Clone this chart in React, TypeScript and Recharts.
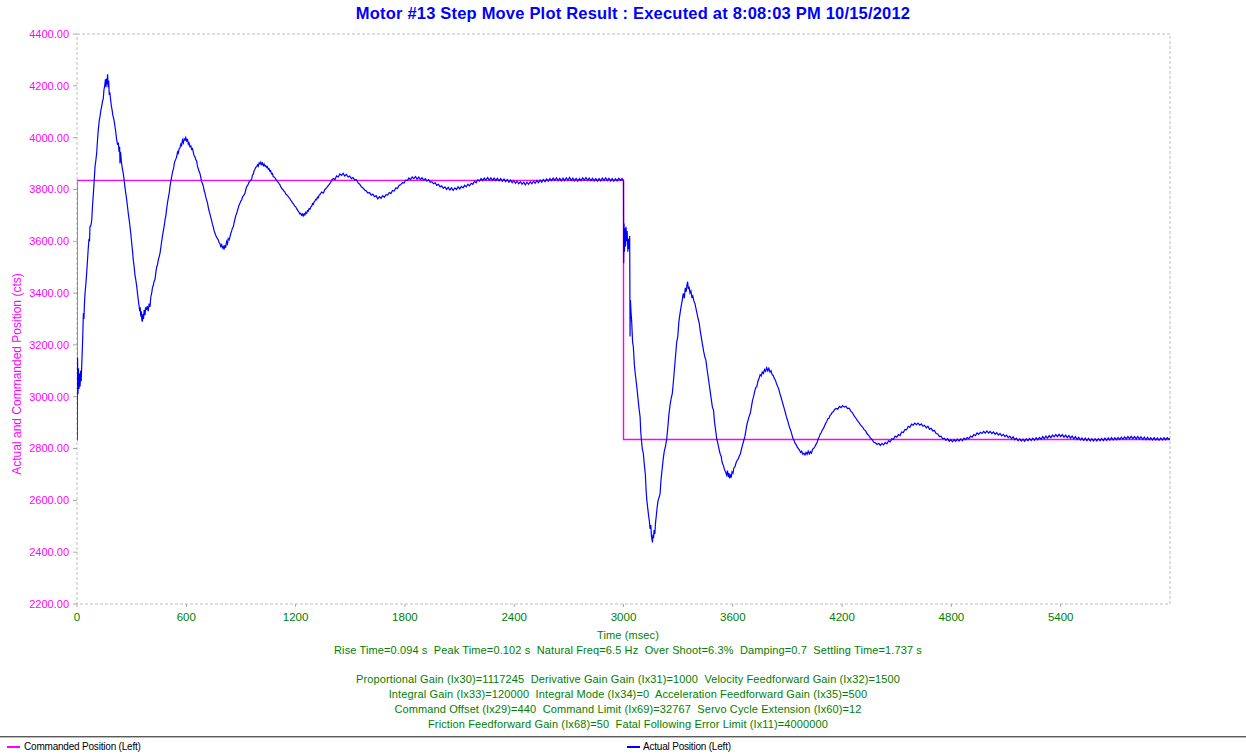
import React from "react";
import { LineChart, Line, XAxis, YAxis, ReferenceArea, Legend } from "recharts";

// Motor #13 step move capture: time in msec, position in counts
type Sample = [number, number];

const positionTicks = [2200, 2400, 2600, 2800, 3000, 3200, 3400, 3600, 3800, 4000, 4200, 4400];
const timeTicks = [0, 600, 1200, 1800, 2400, 3000, 3600, 4200, 4800, 5400];

const commandedSteps: Sample[] = [
  [0, 2835], [0, 3835], [3000, 3835], [3000, 2835], [6000, 2835],
];

// step up and first ringing (0 - 1.34 s)
const riseRinging: Sample[] = [
  [0, 2830], [1, 3000], [3, 3150], [5, 3010], [8, 3110], [11, 3030], [14, 3090], [17, 3040], [20, 3100], [23, 3060],
  [26, 3120], [31, 3220], [35, 3322], [38, 3300], [41, 3360], [44, 3399], [48, 3430], [53, 3476], [57, 3520], [62, 3575],
  [66, 3610], [69, 3600], [71, 3656], [76, 3660], [81, 3682], [85, 3735], [90, 3785], [94, 3830], [99, 3888], [103, 3910],
  [108, 3940], [113, 3995], [117, 4030], [122, 4065], [126, 4081], [131, 4105], [135, 4120], [140, 4140], [144, 4150], [148, 4185],
  [152, 4200], [156, 4225], [159, 4195], [162, 4228], [165, 4205], [168, 4245], [171, 4195], [174, 4220], [177, 4165], [180, 4175],
  [184, 4150], [188, 4125], [193, 4105], [197, 4085], [201, 4075], [205, 4060], [209, 4040], [213, 4020], [218, 3990], [222, 3975],
  [227, 3978], [231, 3945], [234, 3965], [236, 3900], [239, 3945], [244, 3905], [249, 3880], [254, 3862], [259, 3835], [263, 3810],
  [268, 3785], [273, 3759], [277, 3735], [282, 3705], [287, 3680], [291, 3656], [296, 3625], [300, 3595], [305, 3560], [309, 3528],
  [314, 3500], [318, 3470], [323, 3450], [328, 3425], [332, 3400], [337, 3370], [341, 3350], [344, 3330], [347, 3345], [350, 3310],
  [353, 3330], [356, 3295], [359, 3290], [362, 3320], [365, 3300], [369, 3335], [373, 3315], [377, 3345], [381, 3335], [386, 3350],
  [391, 3330], [396, 3360], [401, 3347], [405, 3385], [410, 3400], [414, 3420], [419, 3430], [423, 3445], [428, 3452], [433, 3480],
  [437, 3500], [442, 3510], [447, 3530], [451, 3540], [456, 3555], [460, 3575], [465, 3600], [469, 3620], [474, 3640], [479, 3660],
  [483, 3682], [488, 3700], [493, 3730], [497, 3750], [502, 3770], [507, 3790], [511, 3815], [516, 3834], [520, 3850], [525, 3870],
  [530, 3880], [534, 3900], [538, 3910], [543, 3918], [547, 3926], [552, 3945], [556, 3940], [561, 3958], [565, 3960], [570, 3975],
  [574, 3970], [579, 3990], [584, 3980], [588, 3995], [593, 3991], [597, 4000], [602, 3985], [606, 3995], [611, 3975], [615, 3980],
  [620, 3965], [625, 3968], [629, 3955], [634, 3958], [638, 3945], [643, 3930], [648, 3925], [652, 3915], [657, 3910], [661, 3890],
  [666, 3880], [670, 3870], [675, 3862], [680, 3845], [684, 3830], [689, 3822], [694, 3811], [698, 3795], [703, 3785], [707, 3770],
  [712, 3759], [717, 3745], [721, 3730], [726, 3715], [730, 3705], [735, 3690], [739, 3680], [744, 3664], [748, 3656], [753, 3640],
  [758, 3630], [762, 3622], [767, 3615], [771, 3610], [776, 3605], [780, 3595], [785, 3590], [789, 3580], [794, 3587], [798, 3575],
  [803, 3580], [807, 3568], [812, 3585], [816, 3575], [821, 3599], [826, 3590], [830, 3610], [835, 3605], [840, 3618], [844, 3630],
  [849, 3640], [853, 3650], [858, 3656], [862, 3670], [867, 3685], [872, 3700], [877, 3708], [881, 3720], [886, 3730], [890, 3740],
  [895, 3748], [899, 3755], [904, 3759], [908, 3770], [913, 3775], [918, 3780], [922, 3785], [927, 3800], [931, 3810], [936, 3815],
  [941, 3822], [945, 3830], [950, 3832], [954, 3836], [959, 3840], [963, 3855], [968, 3860], [972, 3872], [977, 3878], [981, 3885],
  [986, 3888], [991, 3895], [995, 3890], [1000, 3903], [1005, 3898], [1009, 3905], [1014, 3896], [1018, 3902], [1023, 3892], [1027, 3898],
  [1032, 3890], [1036, 3892], [1041, 3885], [1045, 3888], [1050, 3878], [1054, 3880], [1059, 3870], [1063, 3872], [1068, 3860], [1073, 3862],
  [1077, 3850], [1082, 3848], [1087, 3845], [1091, 3840], [1096, 3835], [1100, 3830], [1105, 3828], [1110, 3822], [1114, 3818], [1119, 3810],
  [1123, 3806], [1128, 3800], [1133, 3798], [1137, 3792], [1142, 3790], [1146, 3782], [1151, 3780], [1155, 3776], [1160, 3772], [1164, 3768],
  [1169, 3764], [1174, 3758], [1178, 3755], [1183, 3748], [1187, 3745], [1192, 3740], [1196, 3735], [1201, 3733], [1206, 3725], [1210, 3722],
  [1215, 3715], [1219, 3712], [1224, 3705], [1228, 3708], [1233, 3700], [1238, 3705], [1242, 3698], [1247, 3706], [1251, 3702], [1256, 3712],
  [1261, 3708], [1265, 3718], [1270, 3716], [1274, 3726], [1279, 3724], [1284, 3733], [1288, 3735], [1293, 3745], [1297, 3742], [1302, 3752],
  [1306, 3755], [1311, 3762], [1315, 3760], [1320, 3770], [1325, 3768], [1329, 3778], [1334, 3780],
];

// settling at the upper setpoint (1.34 - 3.0 s)
const upperSettle: Sample[] = [
  [1343, 3790], [1352, 3786], [1361, 3800], [1370, 3806], [1379, 3815], [1388, 3822], [1398, 3835], [1407, 3842], [1416, 3838], [1425, 3852],
  [1434, 3848], [1443, 3860], [1452, 3854], [1461, 3862], [1470, 3852], [1479, 3858], [1488, 3848], [1497, 3852], [1506, 3842], [1515, 3846],
  [1525, 3836], [1534, 3838], [1543, 3825], [1552, 3820], [1561, 3810], [1570, 3806], [1579, 3798], [1588, 3794], [1597, 3786], [1606, 3788],
  [1615, 3778], [1624, 3782], [1633, 3772], [1642, 3776], [1651, 3764], [1660, 3772], [1669, 3766], [1678, 3776], [1687, 3770], [1696, 3780],
  [1705, 3778], [1714, 3788], [1723, 3784], [1732, 3796], [1741, 3794], [1750, 3806], [1759, 3804], [1768, 3816], [1777, 3818], [1786, 3826],
  [1795, 3825], [1804, 3836], [1813, 3834], [1822, 3844], [1831, 3838], [1840, 3848], [1849, 3842], [1858, 3850], [1867, 3840], [1876, 3848],
  [1885, 3838], [1894, 3845], [1903, 3836], [1912, 3842], [1921, 3832], [1930, 3838], [1939, 3828], [1948, 3830], [1957, 3822], [1966, 3826],
  [1975, 3816], [1984, 3820], [1993, 3810], [2002, 3814], [2011, 3804], [2020, 3810], [2029, 3800], [2038, 3808], [2047, 3798], [2056, 3806],
  [2065, 3796], [2074, 3806], [2083, 3800], [2092, 3810], [2101, 3802], [2110, 3812], [2119, 3806], [2128, 3816], [2137, 3810], [2146, 3820],
  [2155, 3814], [2164, 3824], [2173, 3820], [2182, 3832], [2191, 3826], [2200, 3838], [2209, 3832], [2218, 3842], [2227, 3834], [2236, 3844],
  [2245, 3836], [2254, 3846], [2263, 3836], [2272, 3845], [2281, 3835], [2290, 3844], [2299, 3834], [2308, 3843], [2317, 3833], [2326, 3842],
  [2335, 3832], [2344, 3840], [2353, 3830], [2362, 3838], [2371, 3828], [2380, 3836], [2389, 3826], [2398, 3834], [2407, 3824], [2416, 3832],
  [2425, 3822], [2434, 3830], [2443, 3820], [2452, 3828], [2461, 3818], [2470, 3828], [2479, 3820], [2488, 3830], [2497, 3822], [2506, 3832],
  [2515, 3824], [2524, 3834], [2533, 3826], [2542, 3836], [2551, 3828], [2560, 3838], [2569, 3830], [2578, 3840], [2587, 3832], [2596, 3842],
  [2605, 3834], [2614, 3844], [2623, 3835], [2632, 3845], [2641, 3834], [2650, 3843], [2659, 3833], [2668, 3844], [2677, 3834], [2686, 3845],
  [2695, 3835], [2704, 3846], [2713, 3834], [2722, 3844], [2731, 3833], [2740, 3843], [2749, 3832], [2758, 3842], [2767, 3834], [2776, 3845],
  [2785, 3836], [2794, 3846], [2803, 3835], [2812, 3844], [2821, 3834], [2830, 3843], [2839, 3833], [2848, 3842], [2857, 3832], [2866, 3842],
  [2875, 3833], [2884, 3844], [2893, 3835], [2902, 3845], [2911, 3834], [2920, 3843], [2929, 3833], [2938, 3842], [2947, 3832], [2956, 3841],
  [2965, 3833], [2974, 3843], [2983, 3835], [2992, 3842], [2998, 3836],
];

// step down and ringing (3.0 - 4.16 s)
const fallRinging: Sample[] = [
  [3000, 3832], [3001, 3515], [3003, 3669], [3005, 3560], [3008, 3650], [3011, 3580], [3014, 3656], [3017, 3600], [3020, 3640], [3024, 3560],
  [3028, 3610], [3031, 3570], [3034, 3620], [3036, 3232], [3038, 3373], [3041, 3330], [3045, 3290], [3050, 3210], [3054, 3193], [3060, 3120],
  [3066, 3080], [3073, 3039], [3080, 2990], [3086, 2950], [3091, 2923], [3095, 2860], [3098, 2836], [3103, 2800], [3109, 2781], [3114, 2740],
  [3120, 2700], [3124, 2640], [3128, 2601], [3133, 2570], [3138, 2540], [3142, 2520], [3146, 2490], [3150, 2505], [3153, 2465], [3156, 2450],
  [3159, 2438], [3162, 2468], [3165, 2455], [3168, 2485], [3172, 2470], [3176, 2515], [3180, 2540], [3185, 2575], [3190, 2600], [3195, 2610],
  [3201, 2627], [3206, 2680], [3212, 2720], [3218, 2760], [3224, 2790], [3230, 2807], [3237, 2836], [3243, 2880], [3249, 2930], [3256, 2970],
  [3262, 2995], [3268, 3013], [3274, 3060], [3280, 3110], [3286, 3160], [3292, 3210], [3298, 3232], [3304, 3290], [3310, 3320], [3316, 3347],
  [3322, 3370], [3328, 3399], [3334, 3380], [3339, 3420], [3344, 3405], [3348, 3430], [3352, 3444], [3356, 3415], [3360, 3425], [3365, 3400],
  [3370, 3408], [3375, 3385], [3380, 3390], [3386, 3370], [3392, 3360], [3398, 3340], [3404, 3320], [3410, 3300], [3416, 3283], [3422, 3250],
  [3428, 3225], [3434, 3200], [3440, 3175], [3446, 3155], [3452, 3142], [3458, 3110], [3464, 3080], [3470, 3050], [3476, 3020], [3482, 2990],
  [3488, 2960], [3494, 2949], [3500, 2900], [3506, 2870], [3512, 2836], [3518, 2820], [3524, 2800], [3530, 2781], [3536, 2770], [3542, 2745],
  [3548, 2735], [3554, 2720], [3560, 2710], [3566, 2698], [3571, 2715], [3575, 2690], [3579, 2705], [3583, 2685], [3587, 2700], [3591, 2688],
  [3596, 2710], [3601, 2705], [3606, 2725], [3612, 2730], [3618, 2745], [3624, 2755], [3630, 2760], [3636, 2772], [3642, 2780], [3648, 2800],
  [3654, 2815], [3660, 2830], [3666, 2845], [3672, 2870], [3678, 2895], [3684, 2910], [3690, 2925], [3696, 2936], [3702, 2960], [3708, 2985],
  [3714, 3000], [3720, 3020], [3726, 3035], [3732, 3039], [3738, 3060], [3744, 3070], [3750, 3085], [3756, 3080], [3762, 3095], [3768, 3090],
  [3774, 3105], [3780, 3098], [3786, 3112], [3792, 3100], [3798, 3110], [3804, 3095], [3810, 3100], [3816, 3085], [3822, 3082], [3828, 3070],
  [3834, 3064], [3840, 3050], [3846, 3040], [3852, 3030], [3858, 3013], [3864, 3000], [3870, 2985], [3876, 2970], [3882, 2955], [3888, 2940],
  [3894, 2923], [3900, 2910], [3906, 2895], [3912, 2880], [3918, 2870], [3924, 2855], [3930, 2840], [3936, 2832], [3942, 2820], [3948, 2815],
  [3954, 2805], [3960, 2800], [3966, 2794], [3972, 2785], [3978, 2790], [3984, 2778], [3990, 2782], [3996, 2775], [4002, 2785], [4008, 2778],
  [4014, 2790], [4020, 2779], [4026, 2788], [4032, 2782], [4038, 2798], [4044, 2800], [4050, 2807], [4056, 2815], [4062, 2822], [4068, 2836],
  [4074, 2845], [4080, 2856], [4086, 2862], [4092, 2872], [4098, 2878], [4104, 2888], [4110, 2898], [4116, 2905], [4122, 2915], [4128, 2917],
  [4134, 2928], [4140, 2932], [4146, 2940], [4152, 2942], [4158, 2950],
];

// settling at the lower setpoint (4.16 - 6.0 s)
const lowerSettle: Sample[] = [
  [4167, 2955], [4176, 2952], [4185, 2962], [4194, 2958], [4203, 2966], [4212, 2960], [4221, 2963], [4230, 2954], [4239, 2956], [4248, 2944],
  [4257, 2938], [4266, 2926], [4275, 2918], [4284, 2908], [4293, 2900], [4302, 2890], [4311, 2884], [4320, 2874], [4329, 2868], [4338, 2856],
  [4347, 2850], [4356, 2840], [4365, 2834], [4374, 2824], [4383, 2822], [4392, 2816], [4401, 2820], [4410, 2812], [4419, 2820], [4428, 2814],
  [4437, 2824], [4446, 2818], [4455, 2830], [4464, 2826], [4473, 2838], [4482, 2836], [4491, 2848], [4500, 2844], [4509, 2854], [4518, 2850],
  [4527, 2864], [4536, 2862], [4545, 2874], [4554, 2872], [4563, 2886], [4572, 2882], [4581, 2894], [4590, 2890], [4599, 2898], [4608, 2892],
  [4617, 2898], [4626, 2890], [4635, 2895], [4644, 2886], [4653, 2890], [4662, 2880], [4671, 2886], [4680, 2874], [4689, 2878], [4698, 2868],
  [4707, 2870], [4716, 2858], [4725, 2856], [4734, 2846], [4743, 2848], [4752, 2838], [4761, 2840], [4770, 2832], [4779, 2838], [4788, 2828],
  [4797, 2834], [4806, 2826], [4815, 2834], [4824, 2828], [4833, 2836], [4842, 2829], [4851, 2837], [4860, 2830], [4869, 2840], [4878, 2834],
  [4887, 2842], [4896, 2838], [4905, 2848], [4914, 2844], [4923, 2854], [4932, 2850], [4941, 2860], [4950, 2855], [4959, 2863], [4968, 2858],
  [4977, 2866], [4986, 2860], [4995, 2868], [5004, 2860], [5013, 2866], [5022, 2858], [5031, 2864], [5040, 2855], [5049, 2861], [5058, 2852],
  [5067, 2858], [5076, 2849], [5085, 2855], [5094, 2846], [5103, 2852], [5112, 2842], [5121, 2848], [5130, 2838], [5139, 2845], [5148, 2834],
  [5157, 2840], [5166, 2830], [5175, 2837], [5184, 2829], [5193, 2836], [5202, 2828], [5211, 2837], [5220, 2830], [5229, 2839], [5238, 2831],
  [5247, 2840], [5256, 2832], [5265, 2842], [5274, 2834], [5283, 2843], [5292, 2836], [5301, 2846], [5310, 2838], [5319, 2848], [5328, 2840],
  [5337, 2850], [5346, 2842], [5355, 2852], [5364, 2845], [5373, 2854], [5382, 2846], [5391, 2855], [5400, 2846], [5409, 2854], [5418, 2844],
  [5427, 2852], [5436, 2842], [5445, 2850], [5454, 2840], [5463, 2848], [5472, 2838], [5481, 2846], [5490, 2835], [5499, 2843], [5508, 2833],
  [5517, 2841], [5526, 2831], [5535, 2840], [5544, 2830], [5553, 2839], [5562, 2829], [5571, 2838], [5580, 2829], [5589, 2838], [5598, 2829],
  [5607, 2838], [5616, 2830], [5625, 2839], [5634, 2830], [5643, 2840], [5652, 2831], [5661, 2841], [5670, 2832], [5679, 2842], [5688, 2833],
  [5697, 2842], [5706, 2834], [5715, 2843], [5724, 2835], [5733, 2844], [5742, 2836], [5751, 2845], [5760, 2837], [5769, 2846], [5778, 2838],
  [5787, 2847], [5796, 2838], [5805, 2846], [5814, 2837], [5823, 2846], [5832, 2837], [5841, 2845], [5850, 2835], [5859, 2844], [5868, 2834],
  [5877, 2843], [5886, 2834], [5895, 2842], [5904, 2833], [5913, 2842], [5922, 2833], [5931, 2841], [5940, 2832], [5949, 2841], [5958, 2833],
  [5967, 2842], [5976, 2834], [5985, 2842], [5994, 2835], [6000, 2839],
];

const resultLine =
  "Rise Time=0.094 s  Peak Time=0.102 s  Natural Freq=6.5 Hz  Over Shoot=6.3%  Damping=0.7  Settling Time=1.737 s";
const gainLines = [
  "Proportional Gain (Ix30)=1117245  Derivative Gain Gain (Ix31)=1000  Velocity Feedforward Gain (Ix32)=1500",
  "Integral Gain (Ix33)=120000  Integral Mode (Ix34)=0  Acceleration Feedforward Gain (Ix35)=500",
  "Command Offset (Ix29)=440  Command Limit (Ix69)=32767  Servo Cycle Extension (Ix60)=12",
  "Friction Feedforward Gain (Ix68)=50  Fatal Following Error Limit (Ix11)=4000000",
];

const toPoints = (rows: Sample[]) => rows.map(([t, pos]) => ({ t, pos }));
const commandedData = toPoints(commandedSteps);
const actualData = toPoints([...riseRinging, ...upperSettle, ...fallRinging, ...lowerSettle]);

const FONT = '"Liberation Sans", Arial, sans-serif';
const MAGENTA = "#ff00ff";
const BLUE = "#0000ff";
const GREEN = "#008000";

const pre = { whiteSpace: "pre" as const };

const renderLegend = () => (
  <div style={{ position: "relative", width: 1246, height: 20, fontFamily: FONT, fontSize: 10, letterSpacing: -0.2, color: "#000" }}>
    <div style={{ position: "absolute", left: 0, top: 2, width: 1246, height: 0, borderTop: "1px solid #5a5a5a", borderBottom: "1px solid #b8b8b8" }} />
    <div style={{ position: "absolute", left: 7, top: 12, width: 13, height: 2, background: MAGENTA }} />
    <div style={{ position: "absolute", left: 24, top: 7, ...pre }}>Commanded Position (Left)</div>
    <div style={{ position: "absolute", left: 627, top: 12, width: 13, height: 2, background: BLUE }} />
    <div style={{ position: "absolute", left: 643, top: 7, ...pre }}>Actual Position (Left)</div>
  </div>
);

const PositionLabel = () => (
  <text
    x={17}
    y={374}
    transform="rotate(-90 17 374)"
    textAnchor="middle"
    dominantBaseline="central"
    fill={MAGENTA}
    fontSize={12}
    fontFamily={FONT}
  >
    Actual and Commanded Position (cts)
  </text>
);

export default function App() {
  return (
    <div style={{ position: "absolute", left: 0, top: 0, width: 1246, height: 754, background: "#fff", fontFamily: FONT }}>
      <div
        style={{
          position: "absolute", left: 0, top: 4, width: 1266, textAlign: "center",
          fontSize: 16.5, letterSpacing: 0.2, fontWeight: "bold", color: BLUE, ...pre,
        }}
      >
        Motor #13 Step Move Plot Result : Executed at 8:08:03 PM 10/15/2012
      </div>

      <LineChart width={1246} height={754} margin={{ top: 34, right: 76, bottom: 0, left: 0 }}>
        <XAxis
          type="number"
          dataKey="t"
          domain={[0, 6000]}
          ticks={timeTicks}
          allowDataOverflow
          height={130}
          axisLine={false}
          tickSize={3}
          tickMargin={6}
          tickLine={{ stroke: "#a8a8a8" }}
          tick={{ fill: GREEN, fontSize: 11.5, fontFamily: FONT }}
        />
        <YAxis
          type="number"
          dataKey="pos"
          domain={[2200, 4400]}
          ticks={positionTicks}
          allowDataOverflow
          width={77}
          axisLine={false}
          tickSize={4}
          tickMargin={4}
          tickLine={{ stroke: "#a8a8a8" }}
          tick={{ fill: MAGENTA, fontSize: 11, fontFamily: FONT }}
          tickFormatter={(v: number) => v.toFixed(2)}
          label={<PositionLabel />}
        />
        <ReferenceArea x1={0} x2={6000} y1={2200} y2={4400} fill="none" stroke="#bdbdbd" strokeDasharray="3 2" />
        <Legend verticalAlign="bottom" height={20} content={renderLegend} />
        <Line
          name="Commanded Position (Left)"
          data={commandedData}
          dataKey="pos"
          type="linear"
          stroke={MAGENTA}
          strokeWidth={1.4}
          dot={false}
          isAnimationActive={false}
        />
        <Line
          name="Actual Position (Left)"
          data={actualData}
          dataKey="pos"
          type="linear"
          stroke={BLUE}
          strokeWidth={1.2}
          dot={false}
          isAnimationActive={false}
        />
      </LineChart>

      <div
        style={{
          position: "absolute", left: 0, top: 628, width: 1256, textAlign: "center",
          fontSize: 11, letterSpacing: 0.12, color: GREEN, lineHeight: "15px", ...pre,
        }}
      >
        <div>Time (msec)</div>
        <div>{resultLine}</div>
        <div style={{ height: 14 }} />
        {gainLines.map((line) => (
          <div key={line}>{line}</div>
        ))}
      </div>
    </div>
  );
}
